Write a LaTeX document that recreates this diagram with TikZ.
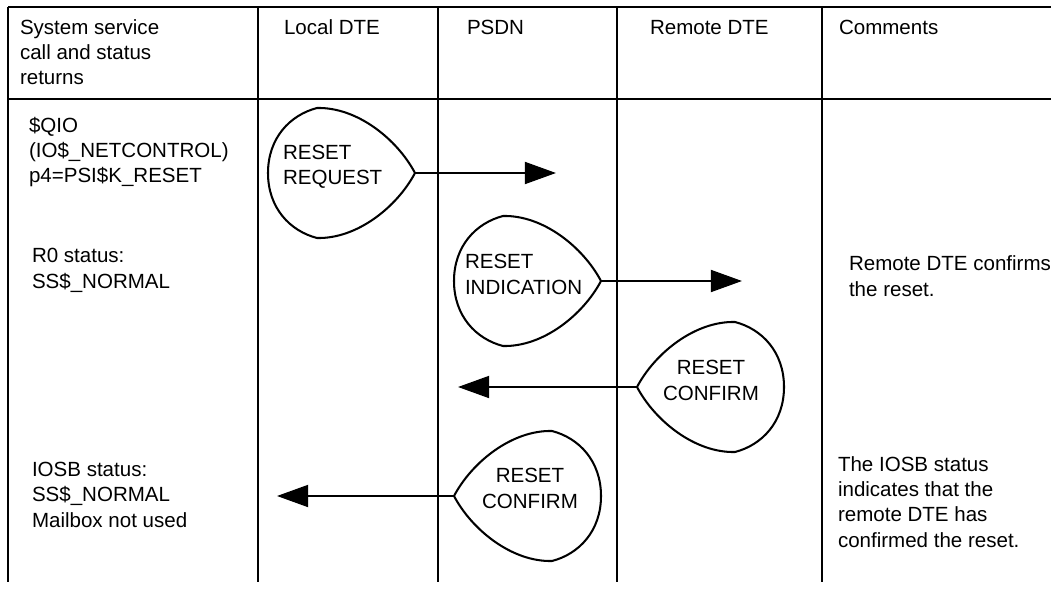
\documentclass[tikz,border=0pt]{standalone}
\usepackage{fontspec}
\setmainfont{Liberation Sans}
\usetikzlibrary{arrows.meta}
\begin{document}
\begin{tikzpicture}[x=0.025cm,y=-0.025cm,line width=1.45pt,
  txt/.style={anchor=base west,inner sep=0pt,align=left,font=\fontsize{14.6}{17.8}\selectfont},
  ctxt/.style={anchor=base,inner sep=0pt,align=center,font=\fontsize{14.6}{17.8}\selectfont},
  flow/.style={-{Triangle[length=0.78cm,width=0.55cm]}},
  teardrop/.pic={\draw[line join=round] (0,0) .. controls (-18,-34) and (-58,-66) .. (-98,-65)
     .. controls (-125,-58) and (-147,-35) .. (-147,0)
     .. controls (-147,35) and (-125,58) .. (-98,65)
     .. controls (-58,66) and (-18,34) .. (0,0) -- cycle;}]
\useasboundingbox (0,0) rectangle (1051,590);
% grid
\draw (8,7) -- (1051,7);
\draw (8,99) -- (1051,99);
\foreach \x in {8,258,438,617,822} \draw (\x,7) -- (\x,582);
% headers (anchor = baseline of the last line)
\node[txt] (h1) at (19,85) {System service\\call and status\\returns};
\node[txt] (h2) at (283,35) {Local DTE};
\node[txt] (h3) at (466,35) {PSDN};
\node[txt] (h4) at (649,35) {Remote DTE};
\node[txt] (h5) at (838,35) {Comments};
% left column
\node[txt] (c1) at (28,183) {\$QIO\\(IO\$\_NETCONTROL)\\p4=PSI\$K\_RESET};
\node[txt] (c2) at (31,288) {R0 status:\\SS\$\_NORMAL};
\node[txt] (c3) at (31,527) {IOSB status:\\SS\$\_NORMAL\\Mailbox not used};
% comments
\node[txt] (m1) at (848,296) {Remote DTE confirms\\the reset.};
\node[txt] (m2) at (837,547) {The IOSB status\\indicates that the\\remote DTE has\\confirmed the reset.};
% messages
\coordinate (t1) at (415,173); \coordinate (e1) at (556,173);
\pic at (t1) {teardrop};
\node[txt] (r1) at (282,185) {RESET\\REQUEST};
\draw[flow] (t1) -- (e1);

\coordinate (t2) at (601,281); \coordinate (e2) at (742,281);
\pic at (t2) {teardrop};
\node[txt] (r2) at (464,294) {RESET\\INDICATION};
\draw[flow] (t2) -- (e2);

\coordinate (t3) at (637,387); \coordinate (e3) at (458,387);
\pic[xscale=-1] at (t3) {teardrop};
\node[ctxt] (r3) at (711,400) {RESET\\CONFIRM};
\draw[flow] (t3) -- (e3);

\coordinate (t4) at (454,496); \coordinate (e4) at (277,496);
\pic[xscale=-1] at (t4) {teardrop};
\node[ctxt] (r4) at (530,508) {RESET\\CONFIRM};
\draw[flow] (t4) -- (e4);
\end{tikzpicture}
\end{document}
